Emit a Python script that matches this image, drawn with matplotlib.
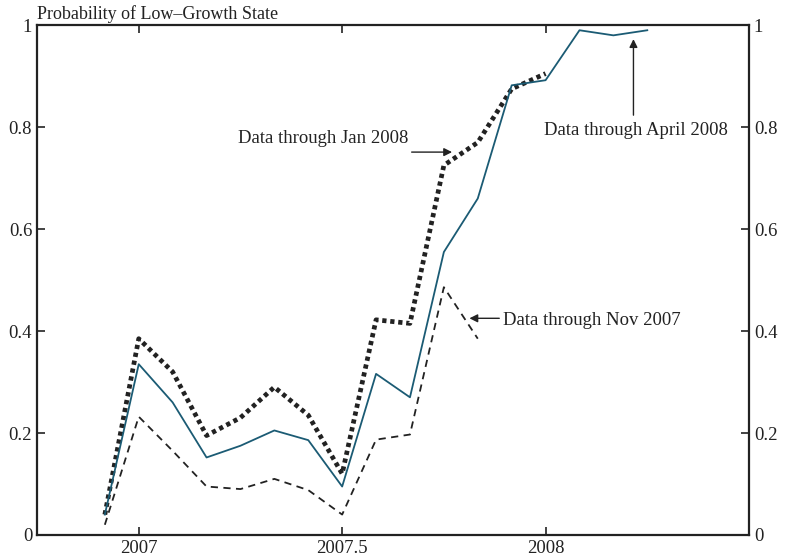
import numpy as np
import matplotlib
matplotlib.use("Agg")
import matplotlib.pyplot as plt

# monthly observations, Dec 2006 onward (fraction of year)
months = 2006 + 11 / 12 + np.arange(17) / 12

prob_apr08 = [0.04, 0.335, 0.26, 0.152, 0.175, 0.205, 0.186, 0.095, 0.316, 0.27,
              0.555, 0.66, 0.882, 0.892, 0.99, 0.98, 0.99]
prob_jan08 = [0.04, 0.385, 0.32, 0.195, 0.23, 0.29, 0.235, 0.12, 0.422, 0.415,
              0.725, 0.77, 0.875, 0.905]
prob_nov07 = [0.02, 0.232, 0.165, 0.095, 0.09, 0.11, 0.088, 0.04, 0.187, 0.197,
              0.486, 0.385]

xticks = [2007, 2007.5, 2008]
xticklabels = ["2007", "2007.5", "2008"]
yticks = [0, 0.2, 0.4, 0.6, 0.8, 1.0]
yticklabels = ["0", "0.2", "0.4", "0.6", "0.8", "1"]

plt.rcParams["font.family"] = ["Liberation Serif", "DejaVu Serif"]
plt.rcParams["font.size"] = 13.5

fig = plt.figure(figsize=(7.88, 5.59), dpi=100)
ax = fig.add_axes([0.047, 0.043, 0.9035, 0.912])

ax.plot(months[:len(prob_jan08)], prob_jan08, color="#222222", lw=3.4,
        linestyle=(0, (0.9, 0.8)))
ax.plot(months[:len(prob_nov07)], prob_nov07, color="#222222", lw=1.3,
        linestyle=(0, (4, 3)))
ax.plot(months, prob_apr08, color="#1b5b74", lw=1.3)

ax.set_xlim(2006.75, 2008.5)
ax.set_ylim(0, 1)
ax.set_xticks(xticks)
ax.set_xticklabels(xticklabels)
ax.set_yticks(yticks)
ax.set_yticklabels(yticklabels)
ax.tick_params(direction="in", length=6, width=1.2, top=True, right=True,
               labelright=True, colors="#222222", labelcolor="#222222")
for s in ax.spines.values():
    s.set_linewidth(1.6)
    s.set_color("#222222")

ax.text(0.0, 1.005, "Probability of Low\u2013Growth State", transform=ax.transAxes,
        ha="left", va="bottom", fontsize=13, color="#222222")

arrow = dict(arrowstyle="-|>", color="#222222", lw=1.0, mutation_scale=12)

ax.text(2007.243, 0.778, "Data through Jan 2008", ha="left", va="center",
        color="#222222")
ax.annotate("", xy=(2007.777, 0.751), xytext=(2007.664, 0.751), arrowprops=arrow)

ax.text(2007.895, 0.4216, "Data through Nov 2007", ha="left", va="center",
        color="#222222")
ax.annotate("", xy=(2007.806, 0.425), xytext=(2007.893, 0.425), arrowprops=arrow)

ax.text(2008.221, 0.794, "Data through April 2008", ha="center", va="center",
        color="#222222")
ax.annotate("", xy=(2008.216, 0.978), xytext=(2008.216, 0.818), arrowprops=arrow)

fig.savefig("out.png", dpi=100)
